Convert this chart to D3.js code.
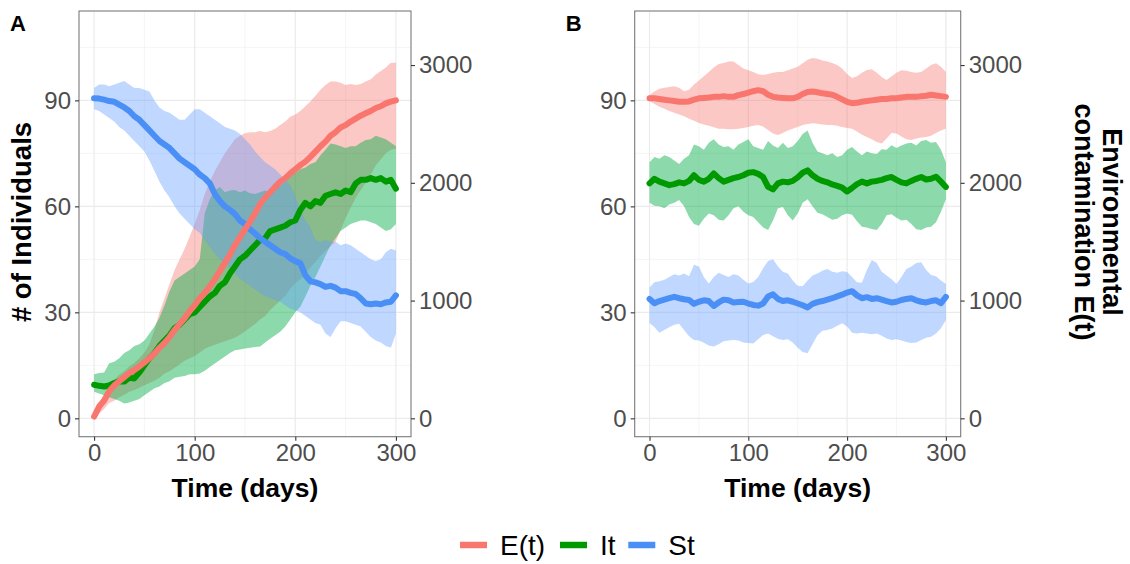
<!DOCTYPE html>
<html><head><meta charset="utf-8">
<script src="https://cdn.jsdelivr.net/npm/d3@7/dist/d3.min.js"></script>
<style>body{margin:0;background:#fff}svg{display:block}</style>
</head><body><svg id="c" width="1130" height="564"></svg>
<script>
// ---------- DATA ----------
const days = [0,5,10,15,20,25,30,35,40,45,50,55,60,65,70,75,80,85,90,95,100,105,110,115,120,125,130,135,140,145,150,155,160,165,170,175,180,185,190,195,200,205,210,215,220,225,230,235,240,245,250,255,260,265,270,275,280,285,290,295,300];
const seriesNames = ["E(t)", "It", "St"];
const leftTicks = [0,30,60,90];
const rightTicks = [0,1000,2000,3000];
const xTicks = [0,100,200,300];

// Panel A  (E in environmental-contamination units, It/St in # of individuals)
const A_E_mean = [15,100,150,230,280,315,350,385,410,440,475,510,550,600,640,690,750,800,850,910,960,1020,1065,1120,1180,1250,1320,1390,1470,1540,1605,1670,1740,1820,1875,1920,1965,2010,2040,2080,2115,2150,2180,2220,2265,2310,2350,2400,2430,2470,2490,2520,2545,2570,2590,2610,2635,2650,2675,2690,2700];
const A_E_upper = [20,140,200,270,330,370,400,440,470,510,560,630,750,900,1020,1140,1260,1350,1440,1545,1650,1770,1905,2010,2100,2175,2250,2310,2370,2400,2420,2430,2430,2440,2430,2440,2460,2490,2520,2560,2580,2610,2650,2690,2740,2790,2830,2860,2860,2850,2830,2840,2830,2840,2860,2880,2920,2950,2980,3020,3020];
const A_E_lower = [0,40,80,130,150,180,200,225,240,260,280,300,320,345,380,400,430,460,490,510,530,560,590,610,625,640,655,670,685,710,740,770,800,840,870,920,960,1000,1040,1100,1150,1180,1230,1280,1330,1380,1420,1460,1500,1600,1700,1790,1870,1940,2000,2070,2150,2200,2250,2280,2290];
const A_I_mean = [9.5,9.2,9,9.3,10,10.5,10.4,11.5,11.3,13,15,17,18.5,20.5,22,23.5,25.5,26.5,28,29.5,30,31.5,33,34.5,35.5,37.5,38.5,41,43,45,46,47.5,49,50.5,51,53,53.5,54,54.5,55.5,56,59,61,60,61.5,61,63,63.5,64,63.5,64.5,64,66.5,67.5,67.5,68,67.5,68,67,67.5,65];
const A_I_upper = [12.5,12.8,13,15.6,16,17,18.5,19.3,20.5,21,22,24,26,28.5,32,36,39,40,41,42,43,45,58,62,64.5,65.5,64,64.5,64.6,64,64.5,63.7,63.5,64,64.5,64,65.5,66,67,68.5,69.5,70.5,71,72,72.5,74.5,76,77.8,77.5,77,76.5,77,77,78,78.8,79,80,79.5,79,78,77];
const A_I_lower = [7.5,7,6.5,6,5.5,5,4.2,4.5,5,5.5,6.5,7.5,8.5,9,10,10.5,11.5,11.8,12,12.5,12.5,12.7,13.5,14.5,15.5,16.5,17.5,18.5,19.3,19.5,19.8,20,20.2,20.3,21.5,22.5,23.5,24.5,26,28,30,31.6,34.5,37.5,40,43,46,49,51,53,54,55,55.5,56,56,55.5,55,54,53,53.5,55];
const A_S_mean = [90.6,90.5,90.2,89.8,89.6,88.8,88,87,85.5,84.5,83,81.5,80,78.5,77.5,76.5,75,73.5,72.5,71.5,70.5,69,68,66.5,63.5,61.5,60,59,57.8,56,55,53.5,52.3,51,50,49,48,47,46.5,45.3,44.5,43.9,40.5,38.8,38.5,38,37.2,37.5,37,36,36,35.5,35.2,34,32.5,32.3,32.5,32.3,32.8,33,34.8];
const A_S_upper = [93.5,94.5,94.5,94,94.5,95,95.5,94.5,93.5,93.5,93,92.5,90,88,87,86.5,85.5,84.5,84.5,86,87.5,87.5,86.5,85.5,84.5,83.5,82.5,82,81.5,80.5,79,77.5,75.5,74,72.5,71.5,70.5,69,67.5,66,63,59,56,54,50.5,50,50.5,50,50,49,49.5,49,48,47,46,45,44.5,45,47,48,47.5];
const A_S_lower = [87.5,87,86,85,84,82.5,81.5,80,78.5,77,75.5,73,70,67,64.5,62.5,60,58,56.5,55,53.5,52.5,50.5,48.5,46.5,45,44,42.5,41,39.5,38.5,37.5,36.5,35.5,34.5,34,33.5,33,32,31,30.5,30,29,28,27,26.5,24,23,25.5,27.5,27.5,27,26.5,26,24.5,23,22,21.5,20.5,20,24];

// Panel B
const B_E_mean = [2718,2718,2712,2706,2700,2694,2688,2688,2691,2706,2718,2721,2724,2730,2730,2736,2730,2730,2745,2754,2766,2778,2787,2778,2748,2730,2724,2721,2718,2718,2730,2754,2772,2775,2769,2760,2754,2748,2730,2709,2688,2676,2679,2688,2694,2700,2706,2712,2712,2718,2718,2724,2730,2730,2730,2736,2739,2748,2742,2736,2730];
const B_E_upper = [2745,2775,2799,2808,2814,2820,2808,2778,2790,2835,2868,2904,2940,2979,3009,3018,3030,3030,3000,2970,2955,2940,2922,2916,2925,2934,2940,2940,2955,2970,2985,3015,3045,3060,3054,3039,3030,3018,3000,2970,2925,2889,2904,2934,2958,2964,2934,2898,2874,2904,2934,2955,2952,2940,2934,2940,2970,3000,3015,2985,2940];
const B_E_lower = [2694,2670,2646,2628,2610,2595,2580,2565,2544,2526,2508,2496,2484,2472,2460,2460,2454,2454,2460,2466,2475,2484,2490,2478,2448,2418,2406,2424,2445,2460,2475,2490,2499,2505,2502,2496,2490,2490,2484,2475,2466,2460,2436,2409,2388,2370,2346,2334,2376,2424,2418,2394,2370,2364,2376,2385,2388,2400,2424,2445,2460];
const B_I_mean = [66.5,67.8,67,66.5,66,66.3,66.8,66.5,67.2,68.8,67.5,67,67.8,69.3,68,67,67.5,68,68.3,68.8,69.5,69.7,69.2,68.3,65.5,64.8,66.5,67,66.8,67.2,68.2,69.5,70.2,68.8,67.8,67.2,66.8,66.2,65.8,65.3,64.2,65.2,66.3,67,66.5,67,67.2,67.5,68,68.3,67.5,66.8,66.5,67.2,67.8,68.3,67.6,67.8,68.4,67,65.5];
const B_I_upper = [72.5,74,73.5,74.5,74,73,72,73.5,74.5,77.5,77,76,78,79,77.5,76.8,77,76,77.5,78.2,79,77,76.5,76,78.5,77.2,76.5,78,76.5,77,78.5,80.5,81.5,78,75.5,75,74.5,75,74,74.5,76,76.8,75.5,74.5,75.5,75,74.8,76.2,76,77.3,76.5,77.2,77.8,78,77.2,78.5,78.8,78,78.2,76,72.5];
const B_I_lower = [61,60.2,60,59.5,60.5,61,61.8,60,57,55,54.5,56.5,58,57.5,56.2,56,57.5,59.5,60,58.5,57.5,57,55.5,54,53.3,56,59.5,59.8,57.5,56,58,61,62,60,58.2,57.8,57,56.2,56.5,57.5,58,57.6,55.8,54.2,54,53.6,53.3,55,57.5,57.8,56.8,56,56.2,55,53.5,53.3,54,54.2,55.5,58.5,62];
const B_S_mean = [33.8,32.6,33.2,33.6,34,34.4,34,33.7,33.5,32.4,33,33.4,33.2,31.8,32.8,33.6,33.4,32.8,32.9,33,32.5,32.1,31.9,32.5,34.5,35.1,33.8,33.2,33.4,33,32.5,32,31.4,32.4,32.9,33.2,33.6,34,34.5,35,35.6,36,34.8,34,34.3,33.8,34,33.6,33.2,32.8,33,33.5,33.8,34,33.4,33,32.8,33.2,33.4,32.6,34.4];
const B_S_upper = [37,38.5,38.8,39.2,40,40.8,40.4,41,40.2,43.5,43,40,38.2,40,41.2,40.6,40,40.8,40.4,39.2,38.2,38.6,40,42.5,44.5,45,43,41.5,41,39,37.5,37.4,39,40.4,41,41.8,42.3,41.5,41.2,41.6,41.4,40,38.5,38.4,42,44.8,44,41.5,40.4,39.4,38,40,42.3,43,44,44.2,42,40.6,40.2,39,38];
const B_S_lower = [27,25.8,24.2,25,25.8,26.5,26.8,25,23.2,22.2,22,21.4,20.6,20.3,21,21.8,22,22.2,22,21.5,21.3,21.2,22.4,23.6,24,23.2,22.5,22.2,22.4,21.5,20,18.8,18.4,21,23.5,24.8,25,25.4,26.2,26.9,26,24.2,24,24.2,24,23.8,24,23.4,22.6,22.2,22.4,22,21.6,21.3,21.5,22.2,22.8,23.1,24,25.5,27.8];

// ---------- STYLE ----------
const lineCol = {"E(t)":"#F8766D", "It":"#009A00", "St":"#4A8FF5"};
const fillCol = {"E(t)":"#F8766D", "It":"#00AA44", "St":"#619CFF"};
const fillOp = {"E(t)":0.4, "It":0.45, "St":0.4};

const svg = d3.select("#c");
const font = "'Liberation Sans', Arial, Helvetica, sans-serif";
const pTop = 11, pBottom = 436.7;
const yL = d3.scaleLinear().domain([-5.2, 115.3]).range([pBottom, pTop]);
const yR = d3.scaleLinear().domain([-156, 3459]).range([pBottom, pTop]);

function panel(x0, x1, data, label, rightTitle) {
  const x = d3.scaleLinear().domain([-15, 315]).range([x0, x1]);
  const g = svg.append("g");
  // grid
  [50,150,250].forEach(v => g.append("line").attr("x1", x(v)).attr("x2", x(v)).attr("y1", pTop).attr("y2", pBottom).attr("stroke", "#F3F3F3").attr("stroke-width", 0.8));
  [15,45,75,105].forEach(v => g.append("line").attr("y1", yL(v)).attr("y2", yL(v)).attr("x1", x0).attr("x2", x1).attr("stroke", "#F3F3F3").attr("stroke-width", 0.8));
  xTicks.forEach(v => g.append("line").attr("x1", x(v)).attr("x2", x(v)).attr("y1", pTop).attr("y2", pBottom).attr("stroke", "#EBEBEB").attr("stroke-width", 1.2));
  leftTicks.forEach(v => g.append("line").attr("y1", yL(v)).attr("y2", yL(v)).attr("x1", x0).attr("x2", x1).attr("stroke", "#EBEBEB").attr("stroke-width", 1.2));

  const clip = "clip" + label;
  svg.append("clipPath").attr("id", clip).append("rect").attr("x", x0).attr("y", pTop).attr("width", x1 - x0).attr("height", pBottom - pTop);
  const pg = g.append("g").attr("clip-path", `url(#${clip})`);

  seriesNames.forEach(n => {
    const d = data[n];
    const ys = n === "E(t)" ? yR : yL;
    const area = d3.area().x((v, i) => x(days[i])).y0((v, i) => ys(d.lower[i])).y1((v, i) => ys(d.upper[i]));
    pg.append("path").attr("d", area(d.lower)).attr("fill", fillCol[n]).attr("fill-opacity", fillOp[n]);
  });
  ["It", "St", "E(t)"].forEach(n => {
    const d = data[n];
    const ys = n === "E(t)" ? yR : yL;
    const line = d3.line().x((v, i) => x(days[i])).y(v => ys(v)).curve(d3.curveLinear);
    pg.append("path").attr("d", line(d.mean)).attr("fill", "none").attr("stroke", lineCol[n]).attr("stroke-width", 6).attr("stroke-linejoin", "round").attr("stroke-linecap", "round");
  });

  // border
  g.append("rect").attr("x", x0).attr("y", pTop).attr("width", x1 - x0).attr("height", pBottom - pTop).attr("fill", "none").attr("stroke", "#7A7A7A").attr("stroke-width", 1.1);

  // axes
  const ax = (sel) => {
    sel.select(".domain").remove();
    sel.selectAll(".tick line").attr("stroke", "#333").attr("stroke-width", 1.1);
    sel.selectAll(".tick text").attr("fill", "#4D4D4D").style("font-family", font).style("font-size", "24px");
  };
  g.append("g").attr("transform", `translate(${x0},0)`).call(d3.axisLeft(yL).tickValues(leftTicks).tickFormat(d3.format("d")).tickSize(4).tickPadding(4)).call(ax);
  g.append("g").attr("transform", `translate(${x1},0)`).call(d3.axisRight(yR).tickValues(rightTicks).tickFormat(d3.format("d")).tickSize(4).tickPadding(4)).call(ax);
  g.append("g").attr("transform", `translate(0,${pBottom})`).call(d3.axisBottom(x).tickValues(xTicks).tickFormat(d3.format("d")).tickSize(4).tickPadding(3)).call(ax);

  g.append("text").attr("x", (x0 + x1) / 2).attr("y", 497).attr("text-anchor", "middle").style("font-family", font).style("font-weight", "bold").style("font-size", "26.5px").text("Time (days)");
  g.append("text").attr("x", x0 - 69).attr("y", 31).style("font-family", font).style("font-weight", "bold").style("font-size", "22px").text(label);
  if (rightTitle) {
    const t = g.append("text").attr("transform", `translate(1100,222) rotate(90)`).attr("text-anchor", "middle").style("font-family", font).style("font-weight", "bold").style("font-size", "27px");
    t.append("tspan").attr("x", 0).attr("y", -3).text("Environmental");
    t.append("tspan").attr("x", 0).attr("y", 25).text("contamination E(t)");
  }
}

const dataA = {
  "E(t)": {mean: A_E_mean, upper: A_E_upper, lower: A_E_lower},
  "It": {mean: A_I_mean, upper: A_I_upper, lower: A_I_lower},
  "St": {mean: A_S_mean, upper: A_S_upper, lower: A_S_lower}
};
const dataB = {
  "E(t)": {mean: B_E_mean, upper: B_E_upper, lower: B_E_lower},
  "It": {mean: B_I_mean, upper: B_I_upper, lower: B_I_lower},
  "St": {mean: B_S_mean, upper: B_S_upper, lower: B_S_lower}
};
panel(79, 411, dataA, "A", false);
panel(634.7, 960.7, dataB, "B", true);

// left y title
svg.append("text").attr("transform", "translate(31,222) rotate(-90)").attr("text-anchor", "middle").style("font-family", font).style("font-weight", "bold").style("font-size", "27.5px").text("# of Individuals");

// legend
const legX = [460, 560, 628.3];
seriesNames.forEach((n, i) => {
  svg.append("line").attr("x1", legX[i]).attr("x2", legX[i] + 27).attr("y1", 545).attr("y2", 545).attr("stroke", lineCol[n]).attr("stroke-width", 6.5);
  svg.append("text").attr("x", legX[i] + 40).attr("y", 555).style("font-family", font).style("font-size", "28px").attr("fill", "#000").text(n);
});
</script></body></html>
